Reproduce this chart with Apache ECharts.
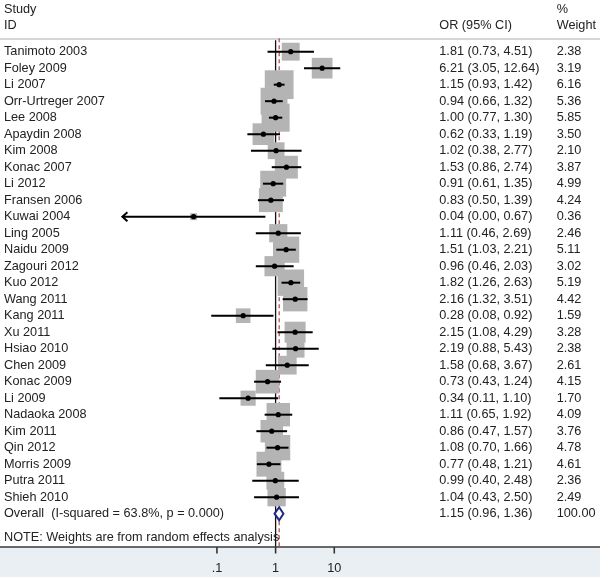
<!DOCTYPE html>
<html>
<head>
<meta charset="utf-8">
<script src="https://cdn.jsdelivr.net/npm/echarts@6/dist/echarts.min.js"></script>
<style>html,body{margin:0;padding:0;background:#fff}#c{width:600px;height:577px}</style>
</head>
<body>
<div id="c"></div>
<script>
const studies = ["Tanimoto 2003","Foley 2009","Li 2007","Orr-Urtreger 2007","Lee 2008","Apaydin 2008","Kim 2008","Konac 2007","Li 2012","Fransen 2006","Kuwai 2004","Ling 2005","Naidu 2009","Zagouri 2012","Kuo 2012","Wang 2011","Kang 2011","Xu 2011","Hsiao 2010","Chen 2009","Konac 2009","Li 2009","Nadaoka 2008","Kim 2011","Qin 2012","Morris 2009","Putra 2011","Shieh 2010"];
const orValues = [1.81,6.21,1.15,0.94,1.00,0.62,1.02,1.53,0.91,0.83,0.04,1.11,1.51,0.96,1.82,2.16,0.28,2.15,2.19,1.58,0.73,0.34,1.11,0.86,1.08,0.77,0.99,1.04];
const ciLower = [0.73,3.05,0.93,0.66,0.77,0.33,0.38,0.86,0.61,0.50,0.00,0.46,1.03,0.46,1.26,1.32,0.08,1.08,0.88,0.68,0.43,0.11,0.65,0.47,0.70,0.48,0.40,0.43];
const ciUpper = [4.51,12.64,1.42,1.32,1.30,1.19,2.77,2.74,1.35,1.39,0.67,2.69,2.21,2.03,2.63,3.51,0.92,4.29,5.43,3.67,1.24,1.10,1.92,1.57,1.66,1.21,2.48,2.50];
const weights = [2.38,3.19,6.16,5.36,5.85,3.50,2.10,3.87,4.99,4.24,0.36,2.46,5.11,3.02,5.19,4.42,1.59,3.28,2.38,2.61,4.15,1.70,4.09,3.76,4.78,4.61,2.36,2.49];
const overallLabel = "Overall  (I-squared = 63.8%, p = 0.000)";
const overallOR = 1.15;
const overallLower = 0.96;
const overallUpper = 1.36;
const overallWeight = 100.00;
const noteText = "NOTE: Weights are from random effects analysis";
const tickValues = [0.1, 1, 10];
const tickLabels = [".1", "1", "10"];
const nullValue = 1;

const FONT = "'Liberation Sans', Arial, sans-serif";
const FS = 12.7;
const TXT = '#222';
const X_LABEL = 4, X_CI = 439.3, X_W = 556.7;
const AXIS_Y = 547;
const AXIS_MIN = 0.001, AXIS_MAX = 1000, ARROW_LIMIT = 0.0024;
const BOX_K = 11.6;
const nRows = studies.length;

function fmt(v){ return v.toFixed(2); }
function ciText(o,l,u){ return fmt(o) + ' (' + fmt(l) + ', ' + fmt(u) + ')'; }

function txt(x, y, s){
  return {type:'text', x:x, y:y, style:{text:s, fill:TXT, fontSize:FS, fontFamily:FONT, align:'left', verticalAlign:'middle'}};
}

const boxData = studies.map((s,i)=>[orValues[i], i, weights[i]]);
const ciData = studies.map((s,i)=>[orValues[i], i, ciLower[i], ciUpper[i], weights[i]]);
const tickData = tickValues.map((v,i)=>[v, 0, i]);

const chart = echarts.init(document.getElementById('c'), null, {renderer:'canvas'});
chart.setOption({
  animation:false,
  backgroundColor:'#fff',
  grid:{left:99.6, right:148.4, top:39.3, height:507.4, containLabel:false, outerBoundsMode:'none'},
  xAxis:{type:'log', logBase:10, min:AXIS_MIN, max:AXIS_MAX, position:'bottom',
    axisLine:{show:false, onZero:false}, splitLine:{show:false},
    axisTick:{show:false}, axisLabel:{show:false}
  },
  yAxis:{type:'value', inverse:true, min:-0.75, max:30, show:false},
  graphic:[
    {type:'rect', shape:{x:0,y:AXIS_Y,width:600,height:577-AXIS_Y}, style:{fill:'#e9eff2'}, z:-10, silent:true},
    {type:'line', shape:{x1:0,y1:39,x2:600,y2:39}, style:{stroke:'#c8c8c8', lineWidth:1.5}, silent:true},
    {type:'line', shape:{x1:0,y1:AXIS_Y,x2:600,y2:AXIS_Y}, style:{stroke:'#3a3a3a', lineWidth:1.5}, z:100, silent:true},
    {type:'text', x:X_LABEL, y:9.5, style:{text:'Study', fill:TXT, fontSize:FS, fontFamily:FONT, verticalAlign:'middle'}},
    {type:'text', x:X_LABEL, y:25.5, style:{text:'ID', fill:TXT, fontSize:FS, fontFamily:FONT, verticalAlign:'middle'}},
    {type:'text', x:X_CI, y:25.5, style:{text:'OR (95% CI)', fill:TXT, fontSize:FS, fontFamily:FONT, verticalAlign:'middle'}},
    {type:'text', x:X_W, y:9.5, style:{text:'%', fill:TXT, fontSize:FS, fontFamily:FONT, verticalAlign:'middle'}},
    {type:'text', x:X_W, y:25.5, style:{text:'Weight', fill:TXT, fontSize:FS, fontFamily:FONT, verticalAlign:'middle'}}
  ],
  series:[
    { // reference lines
      type:'custom', z:1, encode:{x:0, y:1}, clip:false,
      data:[[nullValue, 0, 0],[overallOR, 0, 1]],
      renderItem:function(params, api){
        const cs = params.coordSys;
        const x = api.coord([api.value(0), 0])[0];
        const dashed = api.value(2) === 1;
        return {type:'line', shape:{x1:x, y1:cs.y + (dashed?-1:1), x2:x, y2:AXIS_Y},
          style:{stroke: dashed ? '#b0404c' : '#111', lineWidth: dashed ? 1.2 : 1.3, lineDash: dashed ? [4,3] : null}};
      }
    },
    { // weight boxes
      type:'custom', z:2, encode:{x:0, y:1},
      data:boxData,
      renderItem:function(params, api){
        const c = api.coord([api.value(0), api.value(1)]);
        const side = BOX_K * Math.sqrt(api.value(2));
        return {type:'rect', shape:{x:c[0]-side/2, y:c[1]-side/2, width:side, height:side}, style:{fill:'#b4b4b4'}};
      }
    },
    { // CI lines, points, texts
      type:'custom', z:3, encode:{x:0, y:1},
      data:ciData,
      renderItem:function(params, api){
        const i = params.dataIndex;
        const yv = api.value(1);
        const c = api.coord([api.value(0), yv]);
        const lo = api.value(2), hi = api.value(3);
        const clipped = lo < ARROW_LIMIT;
        const pl = api.coord([clipped ? ARROW_LIMIT : lo, yv]);
        const ph = api.coord([hi, yv]);
        const children = [
          {type:'line', shape:{x1:pl[0], y1:c[1], x2:ph[0], y2:c[1]}, style:{stroke:'#000', lineWidth:2}},
          {type:'circle', shape:{cx:c[0], cy:c[1], r:2.6}, style:{fill:'#000'}}
        ];
        if (clipped) {
          children.push({type:'polyline', shape:{points:[[pl[0]+5.5, c[1]-4.5],[pl[0]+0.5, c[1]],[pl[0]+5.5, c[1]+4.5]]}, style:{stroke:'#000', lineWidth:2, fill:null}});
        }
        children.push(txt(X_LABEL, c[1], studies[i]));
        children.push(txt(X_CI, c[1], ciText(orValues[i], ciLower[i], ciUpper[i])));
        children.push(txt(X_W, c[1], fmt(weights[i])));
        return {type:'group', children:children};
      }
    },
    { // overall diamond
      type:'custom', z:4, encode:{x:0, y:1},
      data:[[overallOR, nRows, overallLower, overallUpper, overallWeight]],
      renderItem:function(params, api){
        const yv = api.value(1);
        const c = api.coord([api.value(0), yv]);
        const l = api.coord([api.value(2), yv]);
        const h = api.coord([api.value(3), yv]);
        const hh = 6.5;
        return {type:'group', children:[
          {type:'polygon', shape:{points:[[l[0],c[1]],[c[0],c[1]-hh],[h[0],c[1]],[c[0],c[1]+hh]]}, style:{fill:'#fff', stroke:'#1e2a85', lineWidth:2}},
          txt(X_LABEL, c[1], overallLabel),
          txt(X_CI, c[1], ciText(overallOR, overallLower, overallUpper)),
          txt(X_W, c[1], fmt(overallWeight)),
          txt(X_LABEL, c[1] + 24, noteText)
        ]};
      }
    },
    { // axis ticks and tick labels (downward from axis line)
      type:'custom', z:20, encode:{x:0, y:1}, clip:false,
      data:tickData,
      renderItem:function(params, api){
        const x = api.coord([api.value(0), 0])[0];
        return {type:'group', children:[
          {type:'line', z2:100, shape:{x1:x, y1:AXIS_Y, x2:x, y2:AXIS_Y+6.5}, style:{stroke:'#333', lineWidth:1.6}},
          {type:'text', x:x, y:AXIS_Y+21, style:{text:tickLabels[api.value(2)], fill:TXT, fontSize:FS, fontFamily:FONT, align:'center', verticalAlign:'middle'}}
        ]};
      }
    }
  ]
});
</script>
</body>
</html>
